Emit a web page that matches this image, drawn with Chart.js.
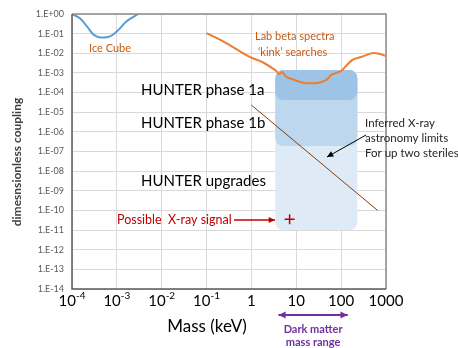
<!DOCTYPE html>
<html>
<head>
<meta charset="utf-8">
<script src="https://cdn.jsdelivr.net/npm/chart.js@4/dist/chart.umd.min.js"></script>
<style>
body{margin:0;background:#fff;}
</style>
</head>
<body>
<canvas id="report_mass" width="458" height="348"></canvas>
<script>
const xTicks = [1e-4, 1e-3, 1e-2, 1e-1, 1, 10, 100, 1000];
const xTickBase = ['10', '10', '10', '10', '1', '10', '100', '1000'];
const xTickExp = ['-4', '-3', '-2', '-1', '', '', '', ''];
const yTicks = [1, 1e-1, 1e-2, 1e-3, 1e-4, 1e-5, 1e-6, 1e-7, 1e-8, 1e-9, 1e-10, 1e-11, 1e-12, 1e-13, 1e-14];
const yTickLabels = ['1.E+00', '1.E-01', '1.E-02', '1.E-03', '1.E-04', '1.E-05', '1.E-06', '1.E-07', '1.E-08', '1.E-09', '1.E-10', '1.E-11', '1.E-12', '1.E-13', '1.E-14'];

const iceCubeMass = [1e-4, 1.5e-4, 2.2e-4, 3e-4, 4e-4, 6e-4, 8e-4, 1.1e-3, 1.6e-3, 2.3e-3, 3e-3];
const iceCubeCoupling = [1, 0.6, 0.22, 0.09, 0.066, 0.066, 0.085, 0.16, 0.4, 0.7, 1];

const labBetaMass = [0.1, 0.275, 0.91, 1.74, 3.4, 4.2, 4.9, 6.0, 9.1, 15, 30, 47, 60, 78, 100, 178, 282, 500, 708, 955];
const labBetaCoupling = [0.107, 0.033, 6.5e-3, 3.6e-3, 1.4e-3, 8.9e-4, 1.1e-3, 6.3e-4, 4.4e-4, 3.1e-4, 3.1e-4, 4.4e-4, 7.9e-4, 1e-3, 1.26e-3, 4.6e-3, 6.5e-3, 1.02e-2, 9.5e-3, 7.5e-3];

const xrayLimitMass = [1, 650];
const xrayLimitCoupling = [2.3e-5, 1.0e-10];

const signalMass = [7.1];
const signalCoupling = [3.6e-11];

// HUNTER reach: upgrades, phase 1b, phase 1a
const hunterMass = [3.4, 230];
const hunterTop = 1.4e-3;
const hunterBottom = [1e-11, 1.9e-7, 4.2e-5];

const darkMatterMass = [4, 140];

function toPoints(xs, ys){
	return xs.map((x, i) => ({x: x, y: ys[i]}));
}

function roundRect(ctx, x, y, w, h, r){
	ctx.beginPath();
	ctx.moveTo(x + r, y);
	ctx.lineTo(x + w - r, y);
	ctx.quadraticCurveTo(x + w, y, x + w, y + r);
	ctx.lineTo(x + w, y + h - r);
	ctx.quadraticCurveTo(x + w, y + h, x + w - r, y + h);
	ctx.lineTo(x + r, y + h);
	ctx.quadraticCurveTo(x, y + h, x, y + h - r);
	ctx.lineTo(x, y + r);
	ctx.quadraticCurveTo(x, y, x + r, y);
	ctx.closePath();
}

function arrow(ctx, x1, y1, x2, y2, color, width, size, both){
	ctx.save();
	ctx.strokeStyle = color;
	ctx.fillStyle = color;
	ctx.lineWidth = width;
	ctx.beginPath();
	ctx.moveTo(x1, y1);
	ctx.lineTo(x2, y2);
	ctx.stroke();
	const heads = both ? [[x1, y1, x2, y2], [x2, y2, x1, y1]] : [[x1, y1, x2, y2]];
	heads.forEach(h => {
		const a = Math.atan2(h[3] - h[1], h[2] - h[0]);
		ctx.beginPath();
		ctx.moveTo(h[2], h[3]);
		ctx.lineTo(h[2] - size * Math.cos(a - 0.45), h[3] - size * Math.sin(a - 0.45));
		ctx.lineTo(h[2] - size * Math.cos(a + 0.45), h[3] - size * Math.sin(a + 0.45));
		ctx.closePath();
		ctx.fill();
	});
	ctx.restore();
}

function text(ctx, str, x, y, font, color, align){
	ctx.font = font;
	ctx.fillStyle = color;
	ctx.textAlign = align || 'left';
	ctx.textBaseline = 'middle';
	ctx.fillText(str, x, y);
}

const regionsPlugin = {
	id: 'regions',
	beforeDatasetsDraw(chart){
		const {ctx, scales: {x, y}} = chart;
		const colors = ['#DEEBF7', '#BDD7EE', '#9DC3E6'];
		const left = x.getPixelForValue(hunterMass[0]);
		const right = x.getPixelForValue(hunterMass[1]);
		const top = y.getPixelForValue(hunterTop);
		ctx.save();
		hunterBottom.forEach((b, i) => {
			const bottom = y.getPixelForValue(b);
			roundRect(ctx, left, top, right - left, bottom - top, 9);
			ctx.fillStyle = colors[i];
			ctx.fill();
		});
		ctx.restore();
	},
	afterDraw(chart){
		const {ctx, chartArea: area, scales: {x, y}} = chart;
		ctx.save();
		// frame
		ctx.lineWidth = 1.5;
		ctx.strokeStyle = '#8C8C8C';
		ctx.beginPath();
		ctx.moveTo(area.left, area.top);
		ctx.lineTo(area.right, area.top);
		ctx.lineTo(area.right, area.bottom);
		ctx.stroke();
		ctx.strokeStyle = '#595959';
		ctx.beginPath();
		ctx.moveTo(area.left, area.top);
		ctx.lineTo(area.left, area.bottom);
		ctx.lineTo(area.right, area.bottom);
		ctx.stroke();

		// x tick labels with superscripts
		const ty = area.bottom + 17;
		xTicks.forEach((v, i) => {
			const px = x.getPixelForValue(v);
			ctx.font = '15px Lato';
			const wb = ctx.measureText(xTickBase[i]).width;
			ctx.font = '10px Lato';
			const we = xTickExp[i] ? ctx.measureText(xTickExp[i]).width : 0;
			const sx = px - (wb + we) / 2;
			ctx.textAlign = 'left';
			ctx.textBaseline = 'alphabetic';
			ctx.fillStyle = '#000';
			ctx.font = '15px Lato';
			ctx.fillText(xTickBase[i], sx, ty);
			if(xTickExp[i]){
				ctx.font = '10px Lato';
				ctx.fillText(xTickExp[i], sx + wb, ty - 7);
			}
		});

		text(ctx, 'Mass (keV)', 207, 327, '17px Lato', '#000', 'center');

		ctx.save();
		ctx.translate(17, 162);
		ctx.rotate(-Math.PI / 2);
		text(ctx, 'dimesnsionless coupling', 0, 0, 'bold 12px Lato', '#404040', 'center');
		ctx.restore();

		// annotations
		text(ctx, 'Ice Cube', 89, 48, '11px Lato', '#C55A11');
		text(ctx, 'Lab beta spectra', 255, 36, '11px Lato', '#C55A11');
		text(ctx, '\u2018kink\u2019 searches', 258, 52, '11px Lato', '#C55A11');
		text(ctx, 'HUNTER phase 1a', 141, 90, '15px Lato', '#000');
		text(ctx, 'HUNTER phase 1b', 141, 123, '15px Lato', '#000');
		text(ctx, 'HUNTER upgrades', 141, 181, '15px Lato', '#000');
		text(ctx, 'Inferred X-ray', 365, 123, '11.5px Lato', '#262626');
		text(ctx, 'astronomy limits', 365, 138, '11.5px Lato', '#262626');
		text(ctx, 'For up two steriles', 365, 153, '11.5px Lato', '#262626');
		arrow(ctx, 366, 135, 327, 157, '#000', 1, 7, false);

		text(ctx, 'Possible  X-ray signal', 117, 220, '12.5px Lato', '#C00000');
		arrow(ctx, 234, 220, 275, 220, '#C00000', 1.5, 7, false);

		const dl = x.getPixelForValue(darkMatterMass[0]);
		const dr = x.getPixelForValue(darkMatterMass[1]);
		arrow(ctx, dl, 315, dr, 315, '#7030A0', 2, 8, true);
		text(ctx, 'Dark matter', (dl + dr) / 2, 329, 'bold 11px Lato', '#7030A0', 'center');
		text(ctx, 'mass range', (dl + dr) / 2, 342, 'bold 11px Lato', '#7030A0', 'center');
		ctx.restore();
	}
};

const ctx = document.querySelector('#report_mass').getContext('2d');
const myChart = new Chart(ctx, {
	type: 'line',
	data: {
		datasets: [{
			label: 'Ice Cube',
			data: toPoints(iceCubeMass, iceCubeCoupling),
			borderColor: '#5B9BD5',
			borderWidth: 2,
			pointRadius: 0,
			tension: 0.4
		}, {
			label: 'Lab beta spectra',
			data: toPoints(labBetaMass, labBetaCoupling),
			borderColor: '#ED7D31',
			borderWidth: 2,
			pointRadius: 0,
			tension: 0.3
		}, {
			label: 'X-ray limits',
			data: toPoints(xrayLimitMass, xrayLimitCoupling),
			borderColor: '#843C0C',
			borderWidth: 1,
			pointRadius: 0
		}, {
			label: 'Possible X-ray signal',
			data: toPoints(signalMass, signalCoupling),
			showLine: false,
			pointStyle: 'cross',
			pointRadius: 5,
			pointBorderWidth: 1.5,
			borderColor: '#C00000'
		}]
	},
	options: {
		responsive: false,
		animation: false,
		layout: {
			padding: {left: 0, right: 72, top: 14, bottom: 0}
		},
		scales: {
			x: {
				type: 'logarithmic',
				min: 1e-4,
				max: 1000,
				afterBuildTicks: scale => { scale.ticks = xTicks.map(v => ({value: v})); },
				afterFit: scale => { scale.height = 59; },
				ticks: {display: false},
				grid: {color: '#D9D9D9', drawTicks: false},
				border: {display: false}
			},
			y: {
				type: 'logarithmic',
				min: 1e-14,
				max: 1,
				afterBuildTicks: scale => { scale.ticks = yTicks.map(v => ({value: v})); },
				afterFit: scale => { scale.width = 72; },
				ticks: {
					font: {family: 'Lato', size: 9},
					color: '#595959',
					padding: 8,
					callback: function(value){
						const i = yTicks.findIndex(t => Math.abs(Math.log10(t) - Math.log10(value)) < 1e-6);
						return yTickLabels[i];
					}
				},
				grid: {color: '#D9D9D9', drawTicks: false},
				border: {display: false}
			}
		},
		plugins: {
			legend: {display: false},
			tooltip: {enabled: false}
		}
	},
	plugins: [regionsPlugin]
});
</script>
</body>
</html>
